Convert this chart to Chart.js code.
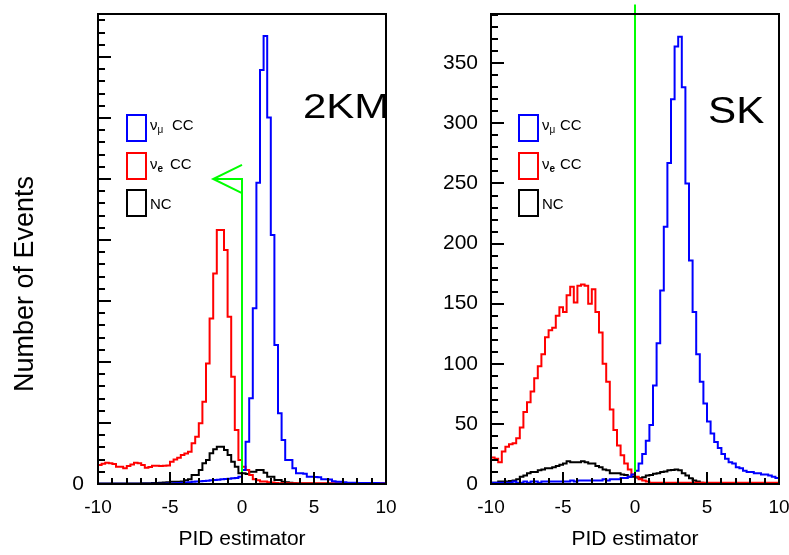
<!DOCTYPE html>
<html><head><meta charset="utf-8">
<script src="https://cdn.jsdelivr.net/npm/chart.js@4.4.1/dist/chart.umd.min.js"></script>
<style>
html,body{margin:0;padding:0;background:#fff;}
#wrap{position:relative;width:789px;height:555px;overflow:hidden;background:#fff;}
canvas{position:absolute;top:0;background:transparent;}
</style></head><body>
<div id="wrap">
<canvas id="c2km" width="412" height="555" style="left:0px"></canvas>
<canvas id="csk" width="394" height="555" style="left:395px"></canvas>
</div>
<script>
const FONT = "'Liberation Sans', Arial, Helvetica, sans-serif";

// ---- binning / x axis ----
const binLow = -10;
const binWidth = 0.25;
const xMin = -10, xMax = 10;
const xMajorTicks = [-10, -5, 0, 5, 10];
const xMinorTicks = [-9,-8,-7,-6,-4,-3,-2,-1,1,2,3,4,6,7,8,9];
const xTitle = 'PID estimator';
const yTitle = 'Number of Events';

// ---- legend ----
const legendMain = ['\u03bd', '\u03bd', 'NC'];
const legendSub  = ['\u03bc', 'e', ''];
const legendRest = ['CC', 'CC', ''];
const legendColors = ['#0000ff', '#ff0000', '#000000'];

// ---- 2KM panel ----
const kmNumuCC = [
  3,3,3,3,3,3,3,3,3,3,
  3,3,4,4,4,5,5,6,6,8,
  10,12,15,20,25,30,35,40,45,50,
  55,60,66,70,77,80,85,93,100,120,
  229,694,1404,2880,4938,6786,7343,6010,4081,2278,
  1158,721,393,393,257,175,175,170,120,120,
  115,110,77,77,75,45,38,38,30,22,
  20,20,18,18,16,16,15,15,14,14];
const kmNueCC = [
  311,330,350,340,328,284,284,257,295,320,
  350,340,311,268,280,300,300,295,300,305,
  366,400,430,475,500,530,667,776,995,1350,
  1977,2715,3452,4163,4163,3835,2742,1759,885,393,
  284,229,147,77,60,40,40,30,25,15,
  12,12,12,12,12,12,12,12,12,12,
  12,12,12,12,12,12,12,12,12,12,
  12,12,12,12,12,12,12,12,12,12];
const kmNC = [
  10,10,10,10,10,10,10,10,10,10,
  10,10,12,12,12,15,15,20,25,30,
  35,38,38,40,60,76,148,148,230,339,
  393,503,568,612,612,557,475,366,284,175,
  175,164,202,202,230,230,186,120,120,66,
  66,38,30,20,12,10,8,8,8,8,
  6,6,6,6,6,6,6,6,6,6,
  6,6,6,6,6,6,6,6,6,6];
const kmYMax = 7705;
const kmYMajorStep = 1000;
const kmYMinorStep = 200;
const kmYTickLabels = [0];
const kmCutLine = [[0,0],[0,5000],[-2,5000]];
const kmCutArrow = [[0,5230],[-2,5000],[0,4770]];
const kmLabel = '2KM';

// ---- SK panel ----
const skNumuCC = [
  1,1,1,1,1,1,2,1,1,2,
  1,2,2,1,2,2,2,2,2,2,
  2,2,3,2,3,3,3,3,3,3,
  3,4,3,4,4,4,5,5,6,8,
  11,17,25,36,49,82,117,161,214,267,
  320,364,372,330,250,186,143,108,85,67,
  52,42,35,30,25,21,18,17,14,13,
  11,10,10,9,9,8,8,7,6,5];
const skNueCC = [
  22,21,18,27,31,33,34,38,47,60,
  68,77,88,98,108,122,128,130,140,147,
  143,157,164,151,165,166,165,150,162,143,
  126,100,85,62,45,32,24,17,12,8,
  6,4,3,2,1,1,1,1,1,1,
  1,1,1,1,1,1,1,1,1,1,
  1,1,1,1,1,1,1,1,1,1,
  1,1,1,1,1,1,1,1,1,1];
const skNC = [
  1,1,2,2,2,2.5,3,4,6,7,
  9,10,10,11.5,12,13,13,14,15,16,
  17,19,18,18,18,19,18,17,17,15,
  14,12,11.5,9,9,9,8,7.5,6,6,
  5.5,4.7,5.6,7,7.5,8.5,9,10,10.5,11.5,
  11.7,12,11.5,9,7,4.7,3,2,1,0.6,
  0.3,0.2,0.1,0,0,0,0,0,0,0,
  0,0,0,0,0,0,0,0,0,0];
const skYMax = 391;
const skYMajorStep = 50;
const skYMinorStep = 10;
const skYTickLabels = [0,50,100,150,200,250,300,350];
const skCutLine = [[0,0],[0,399]];
const skLabel = 'SK';

function histPoints(values) {
  const pts = values.map((v, i) => ({x: binLow + i * binWidth, y: v}));
  pts.push({x: binLow + values.length * binWidth, y: values[values.length - 1]});
  return pts;
}

const decorPlugin = {
  id: 'decor',
  afterDraw(chart, args, o) {
    const ctx = chart.ctx, a = chart.chartArea;
    const xs = chart.scales.x, ys = chart.scales.y;
    ctx.save();
    // panel label (clipped to the frame)
    ctx.save();
    ctx.beginPath(); ctx.rect(a.left, a.top, a.right - a.left, a.bottom - a.top); ctx.clip();
    ctx.fillStyle = '#000';
    ctx.font = o.labelSize + 'px ' + FONT;
    ctx.textBaseline = 'alphabetic'; ctx.textAlign = 'left';
    ctx.translate(o.labelX, o.labelY); ctx.scale(o.labelStretch, 1);
    ctx.fillText(o.label, 0, 0);
    ctx.restore();

    // legend
    const rowTops = [114, 152, 189], baselines = [130, 169, 209];
    for (let r = 0; r < 3; r++) {
      ctx.strokeStyle = legendColors[r]; ctx.lineWidth = 2;
      ctx.strokeRect(o.boxX + 1, rowTops[r] + 1, 19, 26);
      ctx.fillStyle = '#000'; ctx.textAlign = 'left'; ctx.textBaseline = 'alphabetic';
      ctx.font = o.legendSize + 'px ' + FONT;
      ctx.fillText(legendMain[r], o.textX, baselines[r]);
      const w = ctx.measureText(legendMain[r]).width;
      if (legendSub[r]) {
        ctx.font = (legendSub[r] === 'e' ? 'bold ' : '') + '10px ' + FONT;
        ctx.fillText(legendSub[r], o.textX + w, baselines[r] + 3);
      }
      if (legendRest[r]) {
        ctx.font = o.legendSize + 'px ' + FONT;
        ctx.fillText(legendRest[r], o.ccX[r], baselines[r]);
      }
    }

    // frame
    ctx.strokeStyle = '#000'; ctx.lineWidth = 2;
    ctx.strokeRect(a.left, a.top, a.right - a.left, a.bottom - a.top);

    // inward ticks
    ctx.beginPath();
    xMajorTicks.forEach(v => { const p = Math.round(xs.getPixelForValue(v)); ctx.moveTo(p, a.bottom); ctx.lineTo(p, a.bottom - 12); });
    xMinorTicks.forEach(v => { const p = Math.round(xs.getPixelForValue(v)); ctx.moveTo(p, a.bottom); ctx.lineTo(p, a.bottom - 6); });
    const nMinor = Math.floor(o.yMax / o.yMinorStep);
    const ratio = Math.round(o.yMajorStep / o.yMinorStep);
    for (let k = 0; k <= nMinor; k++) {
      const p = Math.round(ys.getPixelForValue(k * o.yMinorStep));
      const len = (k % ratio === 0) ? 13 : 7;
      ctx.moveTo(a.left, p); ctx.lineTo(a.left + len, p);
    }
    ctx.stroke();

    // y title
    if (o.yTitle) {
      ctx.save();
      ctx.fillStyle = '#000';
      ctx.font = '27px ' + FONT;
      ctx.textAlign = 'center'; ctx.textBaseline = 'alphabetic';
      ctx.translate(33, 284); ctx.rotate(-Math.PI / 2);
      ctx.fillText(o.yTitle, 0, 0);
      ctx.restore();
    }
    ctx.restore();
  }
};

function buildChart(id, p) {
  const canvas = document.getElementById(id);
  const W = canvas.width;
  const green = p.cuts.map(c => ({
    data: c.map(([x, y]) => ({x, y})), borderColor: '#00ff00', borderWidth: 2,
    pointRadius: 0, stepped: false, clip: false, fill: false, tension: 0
  }));
  const hist = (vals, color) => ({
    data: histPoints(vals), borderColor: color, borderWidth: 2, pointRadius: 0,
    stepped: true, fill: false, tension: 0, borderJoinStyle: 'miter'
  });
  return new Chart(canvas, {
    type: 'line',
    data: { datasets: [...green, hist(p.numu, '#0000ff'), hist(p.nue, '#ff0000'), hist(p.nc, '#000000')] },
    options: {
      responsive: false, animation: false, devicePixelRatio: 1, events: [],
      layout: { autoPadding: false, padding: { left: 0, right: W - p.areaRight, top: 14, bottom: 0 } },
      plugins: {
        legend: { display: false }, tooltip: { enabled: false },
        decor: p.decor
      },
      scales: {
        x: {
          type: 'linear', min: xMin, max: xMax,
          afterBuildTicks: s => { s.ticks = xMajorTicks.map(v => ({value: v})); },
          afterFit: s => { s.height = 71; s.paddingLeft = 0; s.paddingRight = 0; },
          grid: { display: false, drawTicks: false }, border: { display: false },
          ticks: { autoSkip: false, maxRotation: 0, padding: 12, color: '#000',
                   font: { size: 19, family: FONT }, callback: v => String(v) },
          title: { display: true, text: xTitle, color: '#000',
                   font: { size: 21, family: FONT }, padding: { top: 0, bottom: 3 } }
        },
        y: {
          type: 'linear', min: 0, max: p.yMax,
          afterBuildTicks: s => { s.ticks = p.yTickLabels.map(v => ({value: v})); },
          afterFit: s => { s.width = p.areaLeft; s.paddingTop = 0; s.paddingBottom = 0; },
          grid: { display: false, drawTicks: false }, border: { display: false },
          ticks: { autoSkip: false, padding: p.yPad, color: '#000',
                   font: { size: 21, family: FONT }, callback: v => String(v) }
        }
      }
    },
    plugins: [decorPlugin]
  });
}

buildChart('c2km', {
  numu: kmNumuCC, nue: kmNueCC, nc: kmNC, cuts: [kmCutLine, kmCutArrow],
  yMax: kmYMax, yTickLabels: kmYTickLabels, areaLeft: 98, areaRight: 386, yPad: 14,
  decor: { label: kmLabel, labelX: 303, labelY: 118, labelSize: 35, labelStretch: 1.2,
           boxX: 126, textX: 150, ccX: [172, 170, 0], legendSize: 15,
           yMax: kmYMax, yMajorStep: kmYMajorStep, yMinorStep: kmYMinorStep, yTitle: yTitle }
});
buildChart('csk', {
  numu: skNumuCC, nue: skNueCC, nc: skNC, cuts: [skCutLine],
  yMax: skYMax, yTickLabels: skYTickLabels, areaLeft: 96, areaRight: 384, yPad: 13,
  decor: { label: skLabel, labelX: 313, labelY: 123, labelSize: 37, labelStretch: 1.14,
           boxX: 123, textX: 147, ccX: [165, 165, 0], legendSize: 15,
           yMax: skYMax, yMajorStep: skYMajorStep, yMinorStep: skYMinorStep, yTitle: null }
});
</script>
</body></html>
